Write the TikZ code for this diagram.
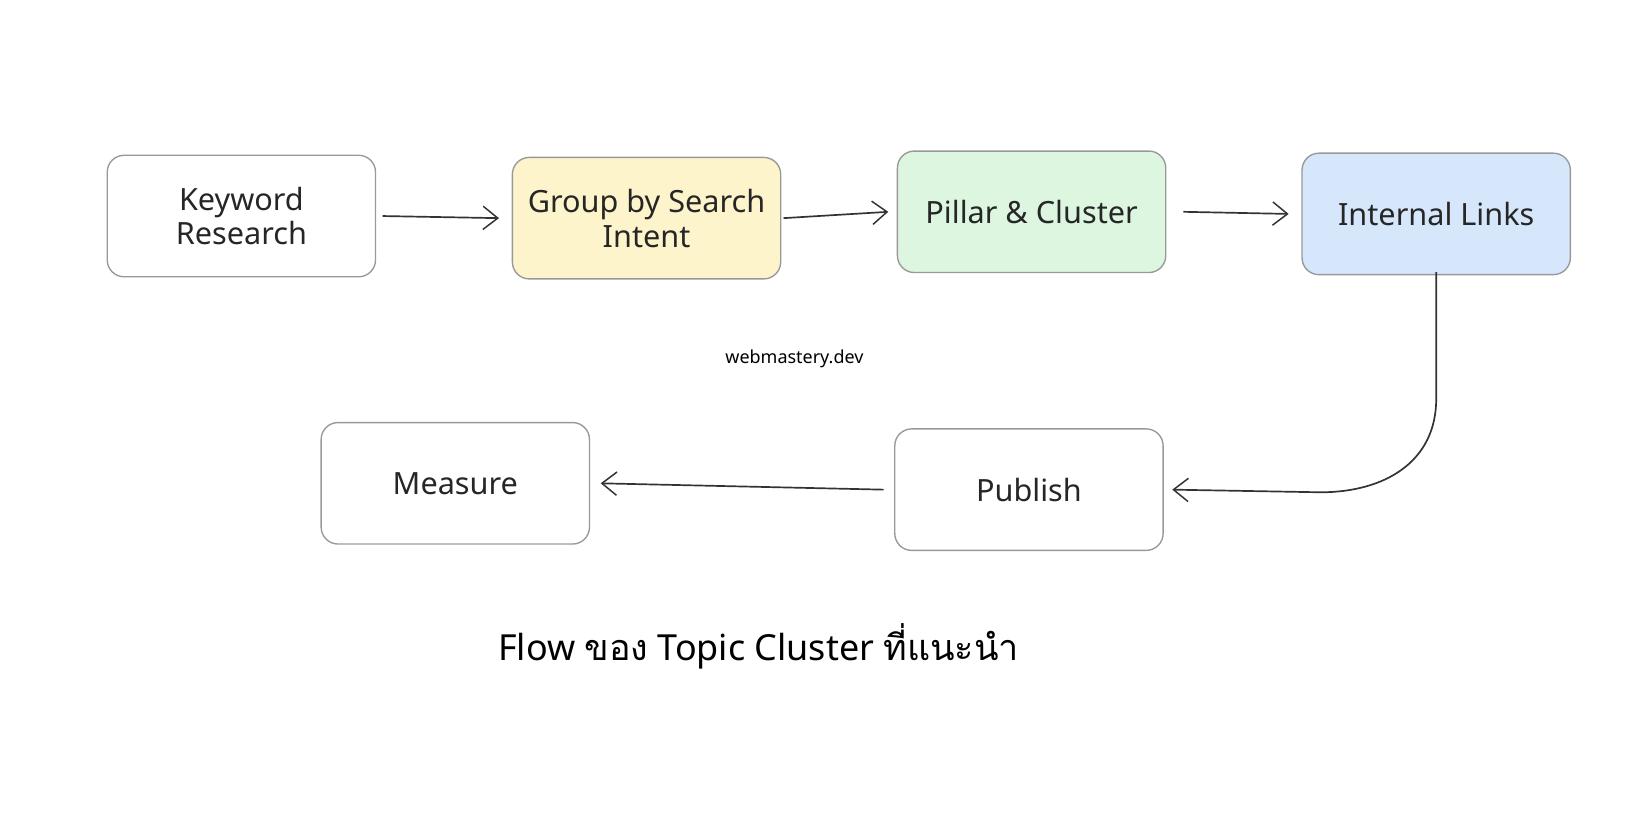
\documentclass[tikz,border=0pt]{standalone}
\usepackage{fontspec}
\setmainfont{Noto Sans}
\newfontfamily\thaifont[Script=Thai]{Loma}
\usetikzlibrary{arrows.meta}
\definecolor{yel}{HTML}{FDF4CC}
\definecolor{grn}{HTML}{DDF6DF}
\definecolor{blu}{HTML}{D6E7FB}
\definecolor{edge}{HTML}{999999}
\begin{document}
\begin{tikzpicture}[x=1pt,y=-1pt,
  box/.style={draw=edge,line width=1.3pt,rounded corners=16pt,minimum width=254pt,minimum height=115pt,align=center,font=\fontsize{29}{33}\selectfont,text=black!85},
  conn/.style={draw=black!80,line width=1.6pt,-{Straight Barb[length=14pt,width=22pt,line width=1.4pt]}}]
\useasboundingbox (0,0) rectangle (1560,781);
\node[box] (kr) at (228.5,204.5) {Keyword\\Research};
\node[box,fill=yel] (gi) at (612,206.5) {Group by Search\\Intent};
\node[box,fill=grn] (pc) at (976.5,200.5) {Pillar \& Cluster};
\node[box,fill=blu] (il) at (1359.5,202.5) {Internal Links};
\node[box] (ms) at (431,457.5) {Measure};
\node[box] (pb) at (974,463.5) {Publish};
\node[font=\fontsize{17}{20}\selectfont] (wm) at (752,340) {webmastery.dev};
\node[font=\fontsize{34}{40}\selectfont] (tt) at (718,612) {Flow {\thaifont ของ} Topic Cluster {\thaifont ที่แนะนำ}};
\draw[conn] ([xshift=6pt]kr.east) -- ([xshift=-12pt]gi.west);
\draw[conn] ([xshift=2pt]gi.east) -- ([xshift=-8pt]pc.west);
\draw[conn] ([xshift=16pt]pc.east) -- ([xshift=-12pt]il.west);
\draw[conn] ([yshift=3pt]il.south) -- ++(0,120) .. controls +(0,60) and +(60,0) .. (1250,466) -- ([xshift=8pt]pb.east);
\draw[conn] ([xshift=-10pt]pb.west) -- ([xshift=10pt]ms.east);
\end{tikzpicture}
\end{document}
